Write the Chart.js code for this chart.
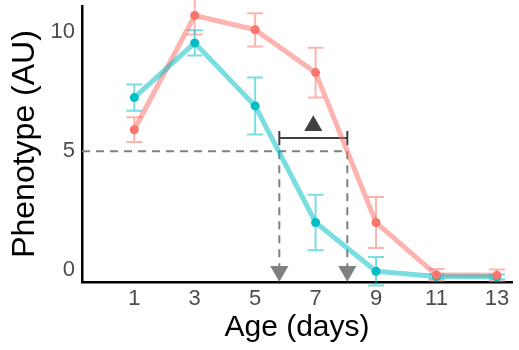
<!DOCTYPE html>
<html>
<head>
<meta charset="utf-8">
<script src="https://cdn.jsdelivr.net/npm/chart.js@4/dist/chart.umd.min.js"></script>
<style>
    html, body { margin: 0; padding: 0; background: #fff; }
</style>
</head>
<body>
<canvas id="phenoChart" width="519" height="350"></canvas>
<script>
// values
const days = [1, 3, 5, 7, 9, 11, 13];
const redMean = [5.9, 10.7, 10.1, 8.3, 2.0, -0.2, -0.22];
const redErr = [0.52, 0.8, 0.7, 1.05, 1.07, 0.25, 0.25];
const tealMean = [7.25, 9.55, 6.9, 2.0, -0.05, -0.27, -0.28];
const tealErr = [0.55, 0.53, 1.2, 1.17, 0.6, 0.1, 0.1];
const yTicks = [0, 5, 10];

// threshold annotation
const threshold = 5;
const crossTeal = 5.8;
const crossRed = 8.05;
const bracketY = 5.55;
const markerY = 6.07;
const arrowY = -0.05;

const xMin = -0.73, xMax = 13.5;
const yMin = -0.5, yMax = 11.1;

const RED = '#F8766D';
const TEAL = '#00BFC4';
const RED_FADE = 'rgba(248,118,109,0.55)';
const TEAL_FADE = 'rgba(0,191,196,0.52)';

Chart.defaults.font.family = '"Liberation Sans", Arial, sans-serif';

function toPoints(xs, ys) {
    return xs.map((x, i) => ({x: x, y: ys[i]}));
}

const errorBars = {
    id: 'errorBars',
    beforeDatasetsDraw(chart) {
        const {ctx, scales: {x, y}} = chart;
        [[redMean, redErr, RED_FADE], [tealMean, tealErr, TEAL_FADE]].forEach(([m, e, c]) => {
            ctx.save();
            ctx.strokeStyle = c;
            ctx.lineWidth = 2;
            days.forEach((d, i) => {
                const px = x.getPixelForValue(d);
                const top = y.getPixelForValue(m[i] + e[i]);
                const bot = y.getPixelForValue(m[i] - e[i]);
                ctx.beginPath();
                ctx.moveTo(px, top); ctx.lineTo(px, bot);
                ctx.moveTo(px - 8, top); ctx.lineTo(px + 8, top);
                ctx.moveTo(px - 8, bot); ctx.lineTo(px + 8, bot);
                ctx.stroke();
            });
            ctx.restore();
        });
    }
};

const dashed = {
    type: 'line',
    borderColor: '#808080',
    borderWidth: 2,
    borderDash: [8, 6],
    pointRadius: 0,
    order: 10
};

new Chart(document.getElementById('phenoChart'), {
    type: 'line',
    data: {
        datasets: [
            Object.assign({data: [{x: xMin, y: threshold}, {x: crossRed, y: threshold}]}, dashed),
            Object.assign({data: [{x: crossTeal, y: threshold}, {x: crossTeal, y: arrowY}]}, dashed),
            Object.assign({data: [{x: crossRed, y: threshold}, {x: crossRed, y: arrowY}]}, dashed),
            {
                type: 'scatter',
                data: [{x: crossTeal, y: arrowY}, {x: crossRed, y: arrowY}],
                pointStyle: 'triangle',
                rotation: 180,
                pointRadius: 10.5,
                backgroundColor: '#808080',
                borderWidth: 0,
                clip: false,
                order: 9
            },
            {
                type: 'line',
                data: [
                    {x: crossTeal, y: bracketY + 0.3}, {x: crossTeal, y: bracketY - 0.3},
                    {x: crossTeal, y: bracketY}, {x: crossRed, y: bracketY},
                    {x: crossRed, y: bracketY + 0.3}, {x: crossRed, y: bracketY - 0.3}
                ],
                borderColor: '#404040',
                borderWidth: 2,
                pointRadius: 0,
                order: 9
            },
            {
                type: 'scatter',
                data: [{x: (crossTeal + crossRed) / 2, y: markerY}],
                pointStyle: 'triangle',
                pointRadius: 10.5,
                backgroundColor: '#404040',
                borderWidth: 0,
                order: 9
            },
            {
                data: toPoints(days, redMean),
                borderColor: RED_FADE,
                borderWidth: 5,
                borderJoinStyle: 'round',
                pointRadius: 0,
                order: 5
            },
            {
                data: toPoints(days, tealMean),
                borderColor: TEAL_FADE,
                borderWidth: 5,
                borderJoinStyle: 'round',
                pointRadius: 0,
                order: 4
            },
            {
                type: 'scatter',
                data: toPoints(days, tealMean),
                pointRadius: 4.5,
                backgroundColor: TEAL,
                borderWidth: 0,
                clip: false,
                order: 2
            },
            {
                type: 'scatter',
                data: toPoints(days, redMean),
                pointRadius: 4.5,
                backgroundColor: RED,
                borderWidth: 0,
                clip: false,
                order: 1
            }
        ]
    },
    options: {
        responsive: false,
        animation: false,
        layout: {autoPadding: false, padding: {top: 6, right: 7, left: 0, bottom: 0}},
        plugins: {legend: {display: false}, tooltip: {enabled: false}},
        scales: {
            x: {
                type: 'linear',
                min: xMin,
                max: xMax,
                afterBuildTicks: s => { s.ticks = days.map(v => ({value: v})); },
                afterFit: s => { s.height = 68; s.paddingLeft = 0; s.paddingRight = 0; },
                grid: {display: false, drawTicks: false},
                border: {color: '#000', width: 2.5},
                ticks: {font: {size: 22}, color: '#4D4D4D', padding: 4, maxRotation: 0},
                title: {display: true, text: 'Age (days)', color: '#000', font: {size: 30}, padding: {top: 0, bottom: 4}}
            },
            y: {
                type: 'linear',
                min: yMin,
                max: yMax,
                afterBuildTicks: s => { s.ticks = yTicks.map(v => ({value: v})); },
                afterFit: s => { s.width = 82; s.paddingTop = 0; s.paddingBottom = 0; },
                grid: {display: false, drawTicks: false},
                border: {color: '#000', width: 2.5},
                ticks: {font: {size: 22}, color: '#4D4D4D', padding: 7},
                title: {display: true, text: 'Phenotype (AU)', color: '#000', font: {size: 32}, padding: {top: 6, bottom: 0}}
            }
        }
    },
    plugins: [errorBars]
});
</script>
</body>
</html>
